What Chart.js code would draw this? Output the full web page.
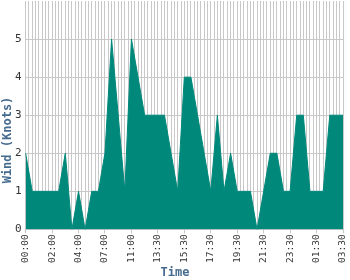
<!DOCTYPE html>
<html>
<head>
<meta charset="utf-8">
<script src="https://cdn.jsdelivr.net/npm/chart.js@4/dist/chart.umd.min.js"></script>
<style>
  html, body { margin: 0; padding: 0; background: #fff; }
  #wrap { width: 350px; height: 280px; }
</style>
</head>
<body>
<div id="wrap"><canvas id="windChart"></canvas></div>
<script>
// one label every 8 readings, readings in between have no label
const tickLabels = ['00:00', '02:00', '04:00', '07:00', '11:00', '13:30', '15:30',
    '17:30', '19:30', '21:30', '23:30', '01:30', '03:30'];

const windKnots = [
    2, 1.5, 1, 1, 1, 1, 1, 1, 1, 1, 1, 1.5, 2, 1, 0, 0.5,
    1, 0.5, 0, 0.5, 1, 1, 1, 1.5, 2, 3.5, 5, 4, 3, 2, 1, 3,
    5, 4.5, 4, 3.5, 3, 3, 3, 3, 3, 3, 3, 2.5, 2, 1.5, 1, 2.5,
    4, 4, 4, 3.5, 3, 2.5, 2, 1.5, 1, 2, 3, 2, 1, 1.5, 2, 1.5,
    1, 1, 1, 1, 1, 0.5, 0, 0.5, 1, 1.5, 2, 2, 2, 1.5, 1, 1,
    1, 2, 3, 3, 3, 2, 1, 1, 1, 1, 1, 2, 3, 3, 3, 3,
    3
];

const yTicks = [0, 1, 2, 3, 4, 5];

const labels = windKnots.map((v, i) => i % 8 === 0 ? tickLabels[i / 8] : '');

const gridGrey = '#c8c8c8';
const titleBlue = '#456b8f';
const teal = '#00897b';
const titleFont = 'bold 12px "DejaVu Sans Mono"';

// axis titles sit at the middle of the whole canvas, not of the plot
const axisTitles = {
    id: 'axisTitles',
    afterDraw(chart) {
        const ctx = chart.ctx;
        ctx.save();
        ctx.font = titleFont;
        ctx.fillStyle = titleBlue;
        ctx.textAlign = 'center';
        ctx.textBaseline = 'middle';
        ctx.fillText('Time', chart.width / 2, chart.height - 7);
        ctx.translate(8, chart.height / 2);
        ctx.rotate(-Math.PI / 2);
        ctx.fillText('Wind (Knots)', 0, 0);
        ctx.restore();
    }
};

new Chart(document.getElementById('windChart'), {
    type: 'line',
    data: {
        labels: labels,
        datasets: [{
            data: windKnots,
            borderColor: teal,
            backgroundColor: teal,
            borderWidth: 1,
            pointRadius: 0,
            pointHoverRadius: 0,
            tension: 0,
            fill: 'origin'
        }]
    },
    plugins: [axisTitles],
    options: {
        responsive: true,
        maintainAspectRatio: false,
        animation: false,
        layout: { autoPadding: false, padding: { top: 0, right: 0, left: 11, bottom: 16 } },
        plugins: {
            legend: { display: false },
            tooltip: { enabled: false }
        },
        scales: {
            x: {
                afterFit: scale => { scale.paddingRight = 7; },
                grid: {
                    color: gridGrey,
                    tickLength: 4,
                    tickColor: ctx => ctx.index % 8 === 0 ? gridGrey : 'rgba(0,0,0,0)'
                },
                border: { color: gridGrey },
                ticks: {
                    autoSkip: false,
                    maxRotation: 90,
                    minRotation: 90,
                    padding: 1,
                    color: '#333',
                    font: { family: 'DejaVu Sans Mono', size: 9.5 }
                }
            },
            y: {
                min: 0,
                max: 6,
                afterFit: scale => { scale.paddingTop = 1; },
                grid: { color: gridGrey, drawTicks: false },
                border: { color: gridGrey },
                afterBuildTicks: axis => {
                    axis.ticks = yTicks.map(v => ({ value: v }));
                },
                ticks: {
                    padding: 4,
                    color: '#333',
                    font: { family: 'DejaVu Sans Mono', size: 11 }
                }
            }
        }
    }
});
</script>
</body>
</html>
